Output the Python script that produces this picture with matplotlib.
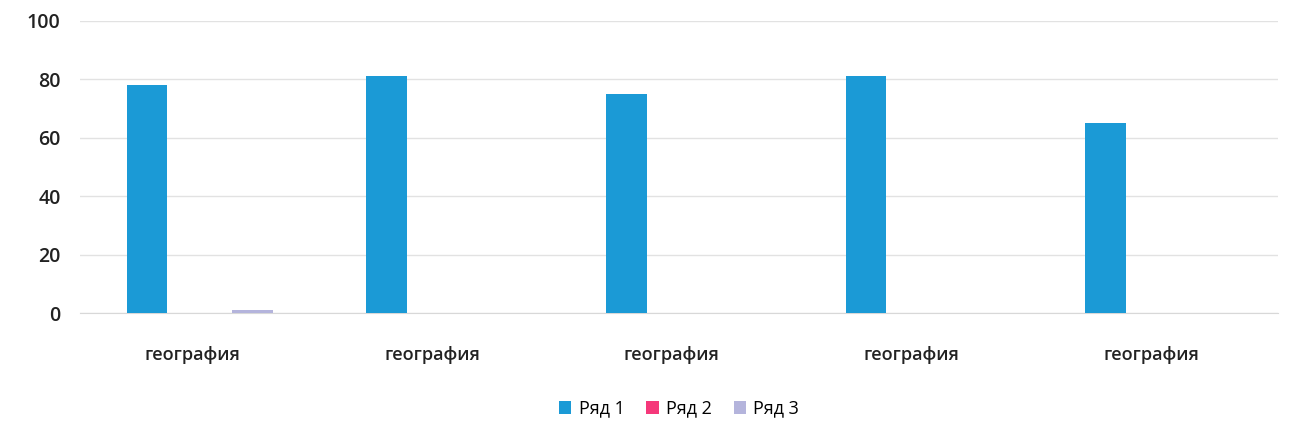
import numpy as np
import matplotlib.pyplot as plt

plt.rcParams['font.family'] = ['Open Sans', 'DejaVu Sans']

# chart data
categories = ['география', 'география', 'география', 'география', 'география']
series_names = ['Ряд 1', 'Ряд 2', 'Ряд 3']
row1 = [78, 81, 75, 81, 65]
row2 = [0, 0, 0, 0, 0]
row3 = [1, 0, 0, 0, 0]
colors = ['#1b9ad6', '#f5387a', '#b4b4dc']

fig, ax = plt.subplots(figsize=(12.91, 4.41), dpi=100)
fig.subplots_adjust(left=0.062, right=0.99, top=0.953, bottom=0.29)

x = np.arange(len(categories))
width = 0.17
offsets = [-0.22, 0.0, 0.22]
for vals, name, col, off in zip([row1, row2, row3], series_names, colors, offsets):
    ax.bar(x + off, vals, width=width, color=col, label=name, zorder=3)

ax.set_ylim(0, 100)
ax.set_xlim(-0.5, len(categories) - 0.5)
ax.set_yticks(range(0, 101, 20))
ax.set_xticks(x - 0.03)
ax.set_xticklabels(categories, fontsize=13, fontweight='semibold', color='#222222')
ax.tick_params(axis='y', labelsize=14, colors='#222222', length=0, pad=14)
ax.tick_params(axis='x', length=0, pad=24)
for lbl in ax.get_yticklabels():
    lbl.set_fontweight('semibold')

ax.grid(axis='y', color='#e2e2e2', linewidth=1, zorder=0)
for side in ['top', 'right', 'left']:
    ax.spines[side].set_visible(False)
ax.spines['bottom'].set_color('#d8d8d8')

ax.legend(loc='upper center', bbox_to_anchor=(0.5, -0.24), ncol=3, frameon=False,
          fontsize=13, handlelength=0.7, handleheight=0.7, handletextpad=0.4,
          columnspacing=1.2)

fig.savefig('out.png')
